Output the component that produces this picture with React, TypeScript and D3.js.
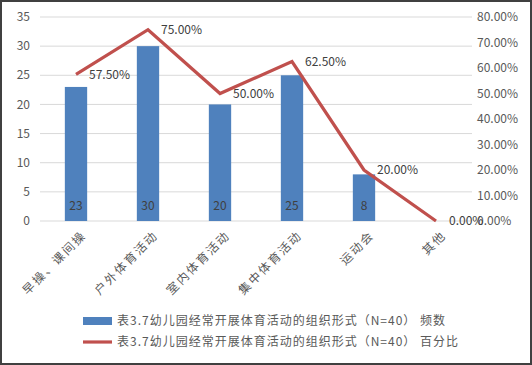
import { useEffect, useRef } from 'react';
import * as d3 from 'd3';

const categories = ['早操、课间操', '户外体育活动', '室内体育活动', '集中体育活动', '运动会', '其他'];
const counts = [23, 30, 20, 25, 8, 0];
const percents = [57.5, 75, 50, 62.5, 20, 0];
const leftTicks = [0, 5, 10, 15, 20, 25, 30, 35];
const rightTicks = [0, 10, 20, 30, 40, 50, 60, 70, 80];
const legendLabels = [
  '表3.7幼儿园经常开展体育活动的组织形式（N=40） 频数',
  '表3.7幼儿园经常开展体育活动的组织形式（N=40） 百分比',
];

const W = 532;
const H = 365;
const FONT = '"Noto Sans CJK SC", "DejaVu Sans", sans-serif';

export default function App() {
  const ref = useRef<SVGSVGElement | null>(null);

  useEffect(() => {
    const svg = d3.select(ref.current);
    svg.selectAll('*').remove();

    const margin = { top: 17, left: 40, right: 60, bottom: 144 };
    const innerW = W - margin.left - margin.right;
    const innerH = H - margin.top - margin.bottom;

    svg.append('rect')
      .attr('x', 1).attr('y', 1).attr('width', W - 2).attr('height', H - 2)
      .attr('fill', '#fff').attr('stroke', '#404040').attr('stroke-width', 2);

    const x = d3.scaleBand<string>().domain(categories).range([0, innerW]).paddingInner(0.69).paddingOuter(0.345);
    const xc = (c: string) => x(c)! + x.bandwidth() / 2;
    const y = d3.scaleLinear().domain([0, 35]).range([innerH, 0]);
    const y2 = d3.scaleLinear().domain([0, 80]).range([innerH, 0]);

    const g = svg.append('g').attr('transform', `translate(${margin.left},${margin.top})`);

    // gridlines
    g.selectAll('line.grid').data(leftTicks).enter().append('line')
      .attr('x1', 0).attr('x2', innerW)
      .attr('y1', d => y(d)).attr('y2', d => y(d))
      .attr('stroke', '#d9d9d9').attr('stroke-width', 1);

    // left labels
    g.selectAll('text.ly').data(leftTicks).enter().append('text')
      .attr('x', -10).attr('y', d => y(d)).attr('dy', '0.35em')
      .attr('text-anchor', 'end').attr('font-size', 12).attr('font-family', FONT)
      .attr('fill', '#595959').text(d => d);

    // right labels
    g.selectAll('text.ry').data(rightTicks).enter().append('text')
      .attr('x', innerW + 5).attr('y', d => y2(d)).attr('dy', '0.35em')
      .attr('text-anchor', 'start').attr('font-size', 12).attr('font-family', FONT)
      .attr('fill', '#595959').text(d => d.toFixed(2) + '%');

    // bars
    g.selectAll('rect.bar').data(counts).enter().append('rect')
      .attr('x', (_, i) => x(categories[i])!)
      .attr('width', x.bandwidth())
      .attr('y', d => y(d))
      .attr('height', d => innerH - y(d))
      .attr('fill', '#4f81bd');

    g.selectAll('text.bl').data(counts).enter()
      .filter(d => d > 0)
      .append('text')
      .attr('x', (_, i) => xc(categories[i]))
      .attr('y', innerH - 15).attr('dy', '0.35em')
      .attr('text-anchor', 'middle').attr('font-size', 12).attr('font-family', FONT)
      .attr('fill', '#404040').text(d => d);

    // line
    const line = d3.line<number>()
      .x((_, i) => xc(categories[i]))
      .y(d => y2(d));
    g.append('path').datum(percents)
      .attr('d', line).attr('fill', 'none')
      .attr('stroke', '#c0504d').attr('stroke-width', 3.2);

    g.selectAll('text.pl').data(percents).enter().append('text')
      .attr('x', (_, i) => xc(categories[i]) + 13)
      .attr('y', d => y2(d)).attr('dy', '0.35em')
      .attr('font-size', 12).attr('font-family', FONT)
      .attr('fill', '#404040').text(d => d.toFixed(2) + '%');

    // x labels
    g.selectAll('text.xl').data(categories).enter().append('text')
      .attr('transform', d => `translate(${xc(d) + 8},${innerH + 12}) rotate(-45)`)
      .attr('text-anchor', 'end').attr('dy', '0.35em')
      .attr('font-size', 12).attr('font-family', FONT).attr('letter-spacing', 2)
      .attr('fill', '#595959').text(d => d);

    // legend
    const lg = svg.append('g').attr('transform', 'translate(83,321)');
    lg.append('rect').attr('x', 0).attr('y', -4).attr('width', 29).attr('height', 8).attr('fill', '#4f81bd');
    lg.append('line').attr('x1', 0).attr('x2', 29).attr('y1', 21).attr('y2', 21)
      .attr('stroke', '#c0504d').attr('stroke-width', 3.2);
    lg.selectAll('text').data(legendLabels).enter().append('text')
      .attr('x', 34).attr('y', (_, i) => i * 21).attr('dy', '0.35em')
      .attr('font-size', 12).attr('font-family', FONT).attr('letter-spacing', 1)
      .attr('fill', '#595959').text(d => d);
  }, []);

  return (
    <svg ref={ref} width={W} height={H} style={{ position: 'absolute', left: 0, top: 0 }}></svg>
  );
}
